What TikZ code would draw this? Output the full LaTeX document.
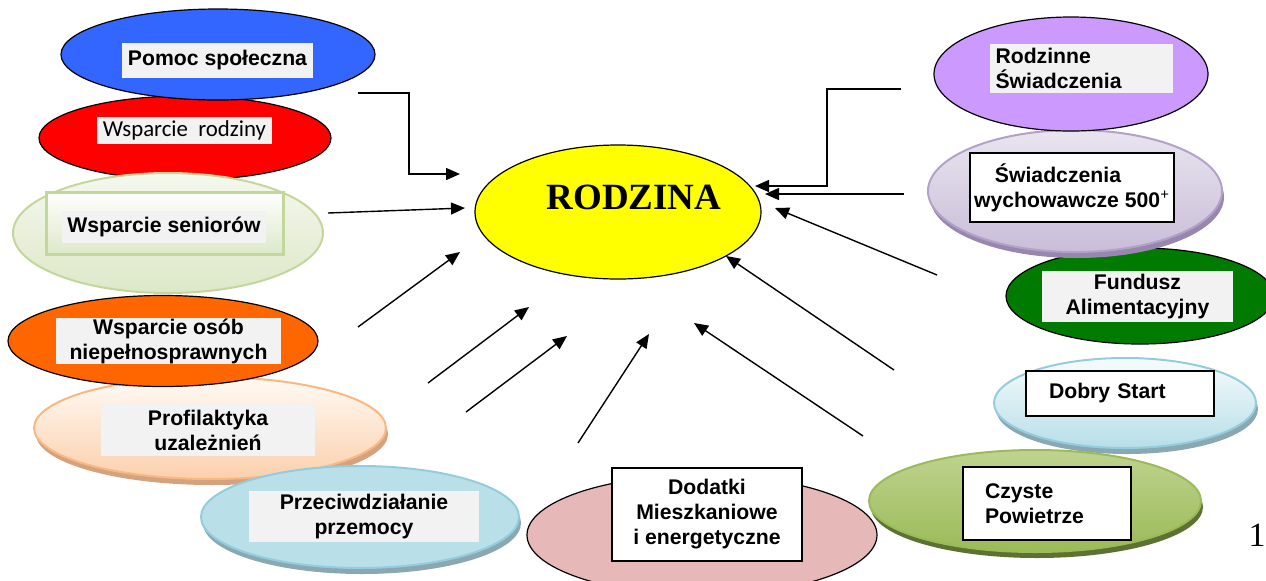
\documentclass[tikz,border=0pt]{standalone}
\usepackage{fontspec}
\setmainfont{Liberation Sans}
\newfontfamily\rodzfont{Liberation Serif}
\newfontfamily\calfont{Carlito}
\usepackage{xcolor}
\usetikzlibrary{shapes.geometric, arrows.meta, shadows}

\definecolor{pomocblue}{HTML}{3366FF}
\definecolor{rodzred}{HTML}{FF0000}
\definecolor{seniorline}{HTML}{C3D69B}
\definecolor{seniortop}{HTML}{F5F8EE}
\definecolor{seniorbottom}{HTML}{DDE8C8}
\definecolor{osoborange}{HTML}{FF6600}
\definecolor{profiltop}{HTML}{FFFAF5}
\definecolor{profilbottom}{HTML}{FBD0AC}
\definecolor{profilline}{HTML}{F9B882}
\definecolor{profilshadow}{HTML}{D4A27E}
\definecolor{przemoctop}{HTML}{B9DFE9}
\definecolor{przemocmid}{HTML}{E8F4F8}
\definecolor{przemocline}{HTML}{93CDDD}
\definecolor{przemocshadow}{HTML}{8AA7B2}
\definecolor{dodatkipink}{HTML}{E6B9B8}
\definecolor{czystetop}{HTML}{BFD38F}
\definecolor{czystebottom}{HTML}{9BBB59}
\definecolor{czysteshadow}{HTML}{5B7232}
\definecolor{dobrytop}{HTML}{F7FCFD}
\definecolor{dobrybottom}{HTML}{B7DEE8}
\definecolor{funduszgreen}{HTML}{007A00}
\definecolor{swiadtop}{HTML}{E9E5EF}
\definecolor{swiadbottom}{HTML}{C9BDD8}
\definecolor{swiadline}{HTML}{B3A2C7}
\definecolor{swiadshadow}{HTML}{9886AE}
\definecolor{rodzviolet}{HTML}{CC99FF}
\definecolor{rodzyellow}{HTML}{FFFF00}
\definecolor{boxgray}{HTML}{F2F2F2}

\begin{document}
\begin{tikzpicture}[x=0.5pt, y=-0.5pt, >={Triangle[length=7pt,width=6pt]},
    oval/.style={ellipse, draw, line width=0.6pt, inner sep=0pt},
    softoval/.style={ellipse, line width=1pt, inner sep=0pt},
    graybox/.style={rectangle, fill=boxgray, inner sep=0pt, align=center,
        font=\fontsize{10.6}{12.5}\selectfont\bfseries},
    whitebox/.style={graybox, fill=white, draw=black, line width=0.8pt},
    conn/.style={->, line width=0.7pt}]

    \useasboundingbox (0,0) rectangle (1266,580);

    % left column
    \node[oval, fill=rodzred, minimum width=146pt, minimum height=42pt] (rodziny) at (185,138) {};
    \node[graybox, font=\fontsize{11.4}{13}\selectfont\calfont, minimum width=87.5pt, minimum height=13.5pt] (rodzinybox) at (184.5,130.5) {Wsparcie\ \ rodziny};

    \node[oval, fill=pomocblue, minimum width=157pt, minimum height=45.5pt] (pomoc) at (218,54.5) {};
    \node[graybox, minimum width=95.5pt, minimum height=17.5pt] (pomocbox) at (217.5,60.5) {Pomoc społeczna};

    \node[softoval, draw=seniorline, top color=seniortop, bottom color=seniorbottom, minimum width=155pt, minimum height=60pt] (senior) at (168,233) {};
    \node[rectangle, draw=seniorline, line width=1.5pt, top color=white, bottom color=seniorbottom, minimum width=118.5pt, minimum height=31pt] (seniorframe) at (164.5,223) {};
    \node[graybox, minimum width=102pt, minimum height=16pt] (seniorbox) at (164,227) {Wsparcie seniorów};

    \node[softoval, draw=profilline, top color=profiltop, bottom color=profilbottom, drop shadow={fill=profilshadow, opacity=1, shadow xshift=1pt, shadow yshift=-3pt}, minimum width=176pt, minimum height=51pt] (profil) at (210,428) {};
    \node[graybox, minimum width=107pt, minimum height=26pt] (profilbox) at (208,430) {Profilaktyka\\uzależnień};

    \node[oval, fill=osoborange, minimum width=155pt, minimum height=45.5pt] (osob) at (163,341) {};
    \node[graybox, minimum width=112.5pt, minimum height=23pt] (osobbox) at (168.5,341) {Wsparcie osób\\niepełnosprawnych};

    \node[softoval, draw=przemocline, top color=przemoctop, middle color=przemocmid, bottom color=przemoctop, drop shadow={fill=przemocshadow, opacity=1, shadow xshift=1pt, shadow yshift=-3pt}, minimum width=159pt, minimum height=51pt] (przemoc) at (360,517) {};
    \node[graybox, minimum width=115pt, minimum height=25.5pt] (przemocbox) at (364,516.5) {Przeciwdziałanie\\przemocy};

    % bottom and right column
    \node[oval, fill=dodatkipink, minimum width=175pt, minimum height=60pt] (dodatki) at (702,535) {};
    \node[whitebox, minimum width=95pt, minimum height=46.5pt] (dodatkibox) at (707,514.5) {Dodatki\\Mieszkaniowe\\i energetyczne};

    \node[softoval, draw=przemocline, top color=dobrytop, bottom color=dobrybottom, drop shadow={fill=przemocshadow, opacity=1, shadow xshift=1pt, shadow yshift=-3pt}, minimum width=131pt, minimum height=45pt] (dobry) at (1125,403) {};
    \node[whitebox, align=left, text width=71pt, inner xsep=11.5pt, minimum height=22.5pt] (dobrybox) at (1120,393.5) {Dobry Start};

    \node[softoval, draw=czystebottom, top color=czystetop, bottom color=czystebottom, drop shadow={fill=czysteshadow, opacity=1, shadow xshift=1pt, shadow yshift=-3pt}, minimum width=166pt, minimum height=51pt] (czyste) at (1035,501) {};
    \node[whitebox, align=left, text width=62pt, inner xsep=11pt, minimum height=36.5pt] (czystebox) at (1047,503.5) {Czyste\\Powietrze};

    \node[oval, fill=funduszgreen, minimum width=134pt, minimum height=48pt] (fundusz) at (1140,296) {};
    \node[graybox, minimum width=95.5pt, minimum height=25.5pt] (funduszbox) at (1137.5,296.5) {Fundusz\\Alimentacyjny};

    \node[softoval, draw=swiadline, top color=swiadtop, bottom color=swiadbottom, drop shadow={fill=swiadshadow, opacity=1, shadow xshift=1pt, shadow yshift=-3pt}, minimum width=147pt, minimum height=61pt] (swiad) at (1075,191) {};
    \node[whitebox, minimum width=102pt, minimum height=34.5pt] (swiadbox) at (1072,187.5) {Świadczenia\hspace*{14pt}\\wychowawcze 500\textsuperscript{\normalfont+}};

    \node[oval, fill=rodzviolet, minimum width=137pt, minimum height=57pt] (rodzinne) at (1071,74) {};
    \node[graybox, align=left, text width=86pt, inner xsep=2.75pt, minimum height=24.5pt] (rodzinnebox) at (1081.5,68.5) {Rodzinne\\Świadczenia};

    % centre
    \node[oval, fill=rodzyellow, minimum width=143pt, minimum height=67pt] (rodzina) at (618,212) {};
    \node[font=\fontsize{18.5}{22}\selectfont\rodzfont\bfseries, inner sep=0pt] (rodzinatext) at (634,197) {RODZINA};

    \node[font=\fontsize{17}{20}\selectfont\rodzfont, inner sep=0pt] (pagenum) at (1257,535) {1};

    % arrow ends
    \coordinate (pomocfrom) at (358,93);
    \coordinate (pomocbend) at (409,174);
    \coordinate (pomocto) at (460,174);
    \coordinate (rodzinnefrom) at (901,89);
    \coordinate (rodzinnebend) at (827,186);
    \coordinate (rodzinneto) at (755,186);
    \coordinate (seniorfrom) at (328,213);
    \coordinate (seniorto) at (465,208);
    \coordinate (osobfrom) at (358,327);
    \coordinate (osobto) at (460,252);
    \coordinate (profilfrom) at (428,383);
    \coordinate (profilto) at (529,307);
    \coordinate (przemocfrom) at (466,412);
    \coordinate (przemocto) at (567,336);
    \coordinate (dodatkifrom) at (578,443);
    \coordinate (dodatkito) at (649,334);
    \coordinate (czystefrom) at (863,436);
    \coordinate (czysteto) at (694,323);
    \coordinate (dobryfrom) at (894,370);
    \coordinate (dobryto) at (726,256);
    \coordinate (funduszfrom) at (937,275);
    \coordinate (funduszto) at (775,208);
    \coordinate (swiadfrom) at (904,194);
    \coordinate (swiadto) at (765,194);

    \draw[conn] (pomocfrom) -| (pomocbend) -- (pomocto);
    \draw[conn] (rodzinnefrom) -| (rodzinnebend) -- (rodzinneto);

    \path[conn]
    (seniorfrom) edge (seniorto)
    (osobfrom) edge (osobto)
    (profilfrom) edge (profilto)
    (przemocfrom) edge (przemocto)
    (dodatkifrom) edge (dodatkito)
    (czystefrom) edge (czysteto)
    (dobryfrom) edge (dobryto)
    (funduszfrom) edge (funduszto)
    (swiadfrom) edge (swiadto);
\end{tikzpicture}
\end{document}
